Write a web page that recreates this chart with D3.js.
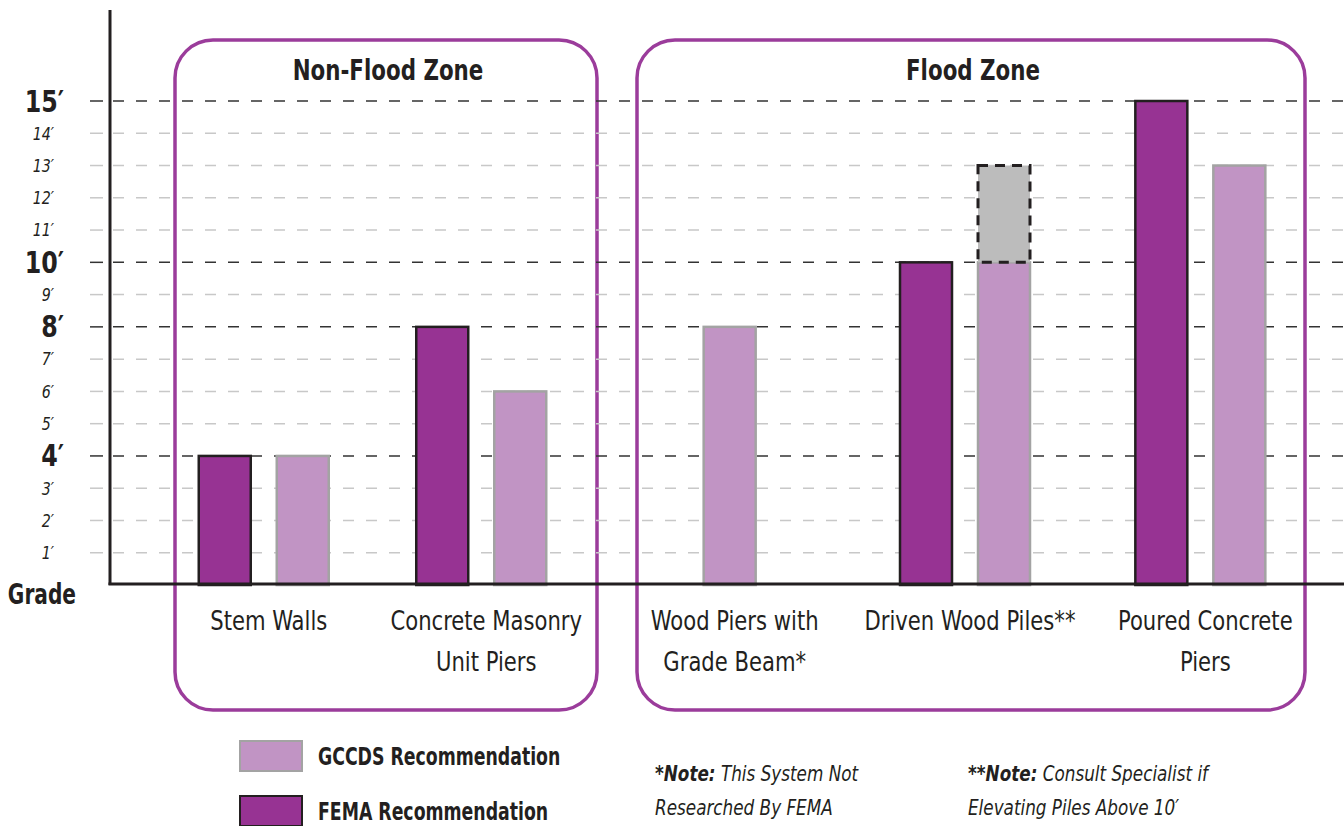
<!DOCTYPE html>
<html>
<head>
<meta charset="utf-8">
<script src="https://cdn.jsdelivr.net/npm/d3@7"></script>
<style>
  body { margin: 0; background: #fff; }
  svg { display: block; }
  text { font-family: "DejaVu Sans Condensed", "Liberation Sans Narrow", "Open Sans", sans-serif; fill: #231f20; }
</style>
</head>
<body>
<svg id="chart" width="1344" height="826"></svg>
<script>
// chart data
const categories = ["Stem Walls", "Concrete Masonry Unit Piers", "Wood Piers with Grade Beam*", "Driven Wood Piles**", "Poured Concrete Piers"]
const labelLines = [["Stem Walls"], ["Concrete Masonry", "Unit Piers"], ["Wood Piers with", "Grade Beam*"], ["Driven Wood Piles**"], ["Poured Concrete", "Piers"]]
const zoneOf = ["Non-Flood Zone", "Non-Flood Zone", "Flood Zone", "Flood Zone", "Flood Zone"]
const femaValues = [4, 8, null, 10, 15]
const gccdsValues = [4, 6, 8, 10, 13]
const specialistTop = [null, null, null, 13, null]   // consult specialist above 10'
const tickValues = [1, 2, 3, 4, 5, 6, 7, 8, 9, 10, 11, 12, 13, 14, 15]
const majorTicks = [4, 8, 10, 15]
const zones = ["Non-Flood Zone", "Flood Zone"]
const series = ["FEMA", "GCCDS"]

const COLORS = {
    FEMA: "#973393",
    GCCDS: "#c194c4",
    zone: "#9b3c9b",
    ext: "#bcbcbc",
    ink: "#231f20"
}

const svg = d3.select("#chart")

const y = d3.scaleLinear().domain([0, 15]).range([585, 101])
const axisX = 110

// squeeze text horizontally, the original uses a condensed face
function squeeze(sel, x, yy, sx) {
    return sel.attr("x", 0).attr("y", 0)
        .attr("transform", function (d, i) {
            const tx = typeof x === "function" ? x(d, i) : x
            const ty = typeof yy === "function" ? yy(d, i) : yy
            return `translate(${tx},${ty}) scale(${sx},1)`
        })
}

// one band scale per zone, so the gap between the two boxes stays
const zoneRange = {"Non-Flood Zone": [155, 590], "Flood Zone": [612, 1318]}
const xZone = {}
zones.forEach(z => {
    xZone[z] = d3.scaleBand()
        .domain(categories.filter((c, i) => zoneOf[i] === z))
        .range(zoneRange[z])
})
const xSub = d3.scaleBand().domain(series).range([-65, 65]).paddingInner(1 / 3).paddingOuter(0)

function catCenter(i) {
    const s = xZone[zoneOf[i]]
    return s(categories[i]) + s.bandwidth() / 2
}

// zone boxes
const zoneBoxes = [
    {name: "Non-Flood Zone", x0: 175, x1: 597},
    {name: "Flood Zone", x0: 637, x1: 1305}
]
svg.append("g").selectAll("rect")
    .data(zoneBoxes)
    .enter()
    .append("rect")
    .attr("x", d => d.x0)
    .attr("y", 40)
    .attr("width", d => d.x1 - d.x0)
    .attr("height", 670)
    .attr("rx", 38)
    .attr("fill", "none")
    .attr("stroke", COLORS.zone)
    .attr("stroke-width", 3.5)

squeeze(svg.append("g").selectAll("text")
    .data(zoneBoxes)
    .enter()
    .append("text"), d => (d.x0 + d.x1) / 2 + 2, 80, 0.82)
    .attr("text-anchor", "middle")
    .style("font-size", "29px")
    .style("font-weight", "700")
    .text(d => d.name)

// grid lines + tick marks
const grid = svg.append("g")
grid.selectAll("line.grid")
    .data(tickValues)
    .enter()
    .append("line")
    .attr("x1", axisX + 3)
    .attr("x2", 1344)
    .attr("y1", d => y(d))
    .attr("y2", d => y(d))
    .attr("stroke", d => majorTicks.includes(d) ? "#333" : "#c8c8c8")
    .attr("stroke-width", 1.5)
    .attr("stroke-dasharray", "11,12")

grid.selectAll("line.tick")
    .data(tickValues)
    .enter()
    .append("line")
    .attr("x1", 90)
    .attr("x2", 103)
    .attr("y1", d => y(d))
    .attr("y2", d => y(d))
    .attr("stroke", d => majorTicks.includes(d) ? "#333" : "#c8c8c8")
    .attr("stroke-width", 1.5)

squeeze(grid.selectAll("text")
    .data(tickValues)
    .enter()
    .append("text"), d => majorTicks.includes(d) ? 64 : 54, d => y(d), 0.88)
    .attr("dy", "0.35em")
    .attr("text-anchor", "end")
    .style("font-size", d => majorTicks.includes(d) ? "30px" : "18px")
    .style("font-weight", d => majorTicks.includes(d) ? "700" : "400")
    .style("font-style", d => majorTicks.includes(d) ? "normal" : "italic")
    .text(d => d + "′")

squeeze(svg.append("text"), 76, 604, 0.8)
    .attr("text-anchor", "end")
    .style("font-size", "28px")
    .style("font-weight", "700")
    .text("Grade")

// bars
const bars = []
categories.forEach((c, i) => {
    const vals = {FEMA: femaValues[i], GCCDS: gccdsValues[i]}
    const present = series.filter(s => vals[s] !== null)
    present.forEach(s => {
        // a lone bar sits in the middle of its category
        const x = present.length === 1
            ? catCenter(i) - xSub.bandwidth() / 2
            : catCenter(i) + xSub(s)
        bars.push({cat: i, series: s, value: vals[s], x: x})
    })
})

svg.append("g").selectAll("rect")
    .data(bars)
    .enter()
    .append("rect")
    .attr("x", d => d.x)
    .attr("y", d => y(d.value))
    .attr("width", xSub.bandwidth())
    .attr("height", d => y(0) - y(d.value))
    .attr("fill", d => COLORS[d.series])
    .attr("stroke", d => d.series === "FEMA" ? COLORS.ink : "#a3a3a3")
    .attr("stroke-width", 2.5)

// dashed "consult specialist" extension
const ext = bars.filter(d => d.series === "GCCDS" && specialistTop[d.cat] !== null)
svg.append("g").selectAll("rect")
    .data(ext)
    .enter()
    .append("rect")
    .attr("x", d => d.x)
    .attr("y", d => y(specialistTop[d.cat]))
    .attr("width", xSub.bandwidth())
    .attr("height", d => y(d.value) - y(specialistTop[d.cat]))
    .attr("fill", COLORS.ext)
    .attr("stroke", COLORS.ink)
    .attr("stroke-width", 3)
    .attr("stroke-dasharray", "10,7")

// axes lines
svg.append("line")
    .attr("x1", axisX).attr("x2", axisX)
    .attr("y1", 10).attr("y2", y(0))
    .attr("stroke", COLORS.ink).attr("stroke-width", 3)
svg.append("line")
    .attr("x1", axisX - 1.5).attr("x2", 1344)
    .attr("y1", y(0) - 1).attr("y2", y(0) - 1)
    .attr("stroke", COLORS.ink).attr("stroke-width", 3)

// category labels
const catLabels = squeeze(svg.append("g").selectAll("text")
    .data(categories)
    .enter()
    .append("text"), (d, i) => catCenter(i) + 5, 630, 0.87)
    .attr("text-anchor", "middle")
    .style("font-size", "27px")
catLabels.selectAll("tspan")
    .data((d, i) => labelLines[i])
    .enter()
    .append("tspan")
    .attr("x", 0)
    .attr("dy", (d, j) => j === 0 ? 0 : 41)
    .text(d => d)

// legend
const legendItems = ["GCCDS", "FEMA"]
const legendText = {GCCDS: "GCCDS Recommendation", FEMA: "FEMA Recommendation"}
const legend = svg.append("g").selectAll("g")
    .data(legendItems)
    .enter()
    .append("g")
    .attr("transform", (d, i) => `translate(240,${741 + i * 55})`)
legend.append("rect")
    .attr("width", 62)
    .attr("height", 30)
    .attr("fill", d => COLORS[d])
    .attr("stroke", d => d === "FEMA" ? COLORS.ink : "#a3a3a3")
    .attr("stroke-width", 2)
squeeze(legend.append("text"), 78, 15, 0.77)
    .attr("dy", "0.35em")
    .style("font-size", "25px")
    .style("font-weight", "700")
    .text(d => legendText[d])

// notes
const notes = [
    {x: 655, head: "*Note:", lines: [" This System Not", "Researched By FEMA"]},
    {x: 968, head: "**Note:", lines: [" Consult Specialist if", "Elevating Piles Above 10′"]}
]
const noteG = svg.append("g").selectAll("g")
    .data(notes)
    .enter()
    .append("g")
const first = squeeze(noteG.append("text"), d => d.x, 781, 0.85)
    .style("font-size", "22px")
    .style("font-style", "italic")
first.append("tspan").style("font-weight", "700").text(d => d.head)
first.append("tspan").text(d => d.lines[0])
squeeze(noteG.append("text"), d => d.x, 815, 0.85)
    .style("font-size", "22px")
    .style("font-style", "italic")
    .text(d => d.lines[1])
</script>
</body>
</html>
